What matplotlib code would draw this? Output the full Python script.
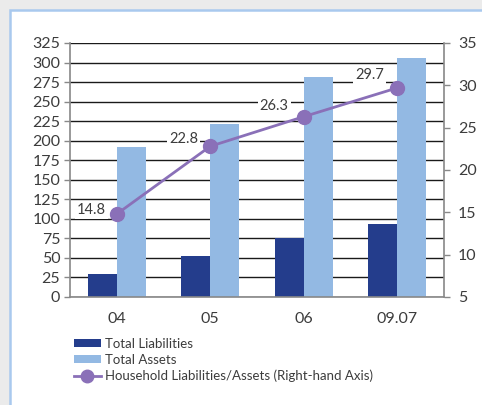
import matplotlib.pyplot as plt
import numpy as np
from matplotlib.patches import Rectangle
from matplotlib.lines import Line2D
from matplotlib.patches import Patch

# household balance sheet, trillion won
years = ["04", "05", "06", "09.07"]
total_liabilities = [30, 52, 76, 93]
total_assets = [192, 221, 282, 306]
liab_to_assets = [14.8, 22.8, 26.3, 29.7]  # %, right-hand axis

dark_blue = "#243d8c"
light_blue = "#93b9e3"
purple = "#8a70b8"
text_col = "#3c3c3c"

plt.rcParams['font.family'] = ['Lato', 'DejaVu Sans']

fig = plt.figure(figsize=(4.82, 4.05), dpi=100)
fig.patch.set_facecolor("#ebebeb")

# white panel with a light blue frame
panel = Rectangle((10 / 482, -0.05), 1.0, 1.0 - 10 / 405 + 0.05,
                  transform=fig.transFigure, facecolor="white",
                  edgecolor="#a9c9ee", linewidth=1.8, zorder=-5)
fig.patches.append(panel)

ax = fig.add_axes([70 / 482, 1 - 297 / 405, 374 / 482, 254 / 405])
ax.set_facecolor("none")
x = np.arange(len(years))
w = 0.31

ax.set_axisbelow(True)
ax.yaxis.grid(True, color="#1a1a1a", linewidth=1.0)
ax.bar(x - w / 2, total_liabilities, w, color=dark_blue, zorder=2)
ax.bar(x + w / 2, total_assets, w, color=light_blue, zorder=2)

ax.set_xlim(-0.5, 3.5)
ax.set_ylim(0, 325)
ax.set_yticks(range(0, 326, 25))
ax.set_xticks(x)
ax.set_xticklabels(years)
ax.tick_params(axis="x", length=0, pad=11, labelsize=11.5, labelcolor=text_col)
ax.tick_params(axis="y", length=4, width=1, color="#888888", pad=3,
               labelsize=11.5, labelcolor=text_col)
for side in ["top", "right"]:
    ax.spines[side].set_visible(False)
for side in ["left", "bottom"]:
    ax.spines[side].set_color("#888888")
    ax.spines[side].set_linewidth(1.2)

ax2 = ax.twinx()
ax2.set_ylim(5, 35)
ax2.set_yticks(range(5, 36, 5))
ax2.plot(x, liab_to_assets, color=purple, linewidth=2, marker="o",
         markersize=10, zorder=3)
ax2.tick_params(axis="y", length=4, width=1, color="#888888", pad=6,
                labelsize=11.5, labelcolor=text_col)
for side in ["top", "left", "bottom"]:
    ax2.spines[side].set_visible(False)
ax2.spines["right"].set_color("#888888")
ax2.spines["right"].set_linewidth(1.2)

# value labels sit on small white boxes that hide the grid behind them
label_offsets = [(-11, -3), (-12, 0), (-15, 4), (-13, 6)]
for xi, v, off in zip(x, liab_to_assets, label_offsets):
    ax2.annotate(f"{v}", (xi, v), xytext=off, textcoords="offset pixels",
                 ha="right", va="bottom", fontsize=10.5, color=text_col,
                 bbox=dict(boxstyle="square,pad=0.15", facecolor="white",
                           edgecolor="none"))

handles = [
    Patch(facecolor=dark_blue),
    Patch(facecolor=light_blue),
    Line2D([], [], color=purple, linewidth=2, marker="o", markersize=9),
]
labels = ["Total Liabilities", "Total Assets",
          "Household Liabilities/Assets (Right-hand Axis)"]
fig.legend(handles, labels, loc="upper left",
           bbox_to_anchor=(67 / 482, 1 - 331 / 405), frameon=False,
           fontsize=9.5, labelcolor=text_col, handlelength=2.1,
           handleheight=0.6, handletextpad=0.3, labelspacing=0.3,
           borderpad=0)

fig.savefig("out.png", dpi=100, facecolor=fig.get_facecolor())
